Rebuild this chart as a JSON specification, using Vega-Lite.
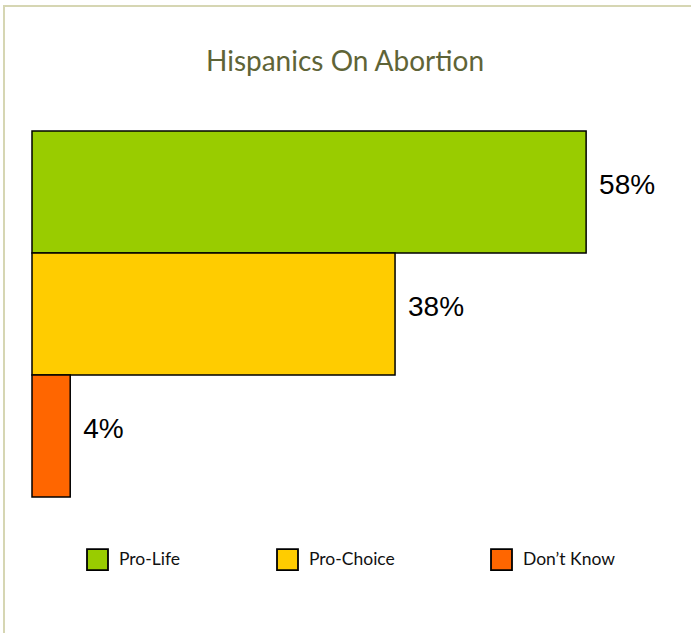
{
  "$schema": "https://vega.github.io/schema/vega-lite/v6.json",
  "autosize": {"type": "none"},
  "padding": {"left": 4, "top": 6, "right": 0, "bottom": 0},
  "width": 700,
  "height": 700,
  "background": "white",
  "config": {
    "view": {"stroke": "#d6d6b3", "strokeWidth": 2},
    "font": "Lato"
  },
  "title": {
    "text": "Hispanics On Abortion",
    "font": "Lato",
    "fontSize": 28,
    "fontWeight": "normal",
    "color": "#5f6437",
    "anchor": "middle",
    "dx": -9,
    "offset": -71
  },
  "data": {
    "values": [
      {"answer": "Pro-Life", "pct": 58, "label": "58%"},
      {"answer": "Pro-Choice", "pct": 38, "label": "38%"},
      {"answer": "Don’t Know", "pct": 4, "label": "4%"}
    ]
  },
  "encoding": {
    "y": {
      "field": "answer",
      "type": "nominal",
      "sort": ["Pro-Life", "Pro-Choice", "Don’t Know"],
      "scale": {"range": [125, 491], "paddingInner": 0, "paddingOuter": 0},
      "axis": null
    }
  },
  "layer": [
    {
      "mark": {"type": "bar", "stroke": "black", "strokeWidth": 1.5},
      "encoding": {
        "x": {
          "field": "pct",
          "type": "quantitative",
          "scale": {"domain": [0, 65], "range": [28, 649]},
          "axis": null
        },
        "color": {
          "field": "answer",
          "type": "nominal",
          "sort": ["Pro-Life", "Pro-Choice", "Don’t Know"],
          "scale": {
            "domain": ["Pro-Life", "Pro-Choice", "Don’t Know"],
            "range": ["#99cc00", "#ffcc00", "#ff6600"]
          },
          "legend": {
            "title": null,
            "orient": "none",
            "direction": "horizontal",
            "legendX": 82,
            "legendY": 542,
            "symbolType": "square",
            "symbolSize": 441,
            "symbolStrokeColor": "black",
            "symbolStrokeWidth": 1.8,
            "symbolOpacity": 1,
            "labelFont": "Lato",
            "labelFontSize": 17.5,
            "labelColor": "#111111",
            "labelOffset": 10,
            "columnPadding": 92
          }
        }
      }
    },
    {
      "mark": {"type": "text", "align": "left", "baseline": "middle", "dx": 13, "dy": -6, "fontSize": 28, "font": "Liberation Sans", "color": "black"},
      "encoding": {
        "x": {"field": "pct", "type": "quantitative"},
        "text": {"field": "label"}
      }
    }
  ]
}
